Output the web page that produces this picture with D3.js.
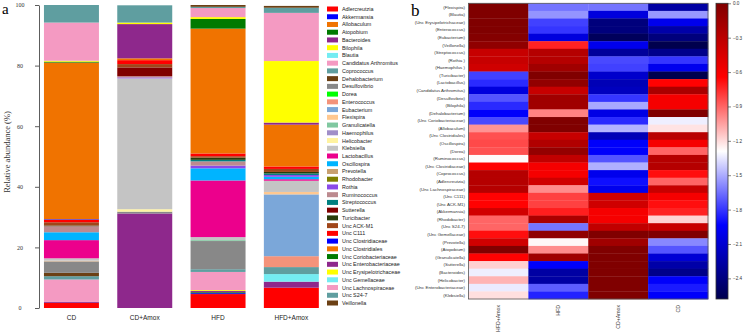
<!DOCTYPE html>
<html>
<head>
<meta charset="utf-8">
<script src="https://cdn.jsdelivr.net/npm/d3@7"></script>
<style>
  body { margin: 0; background: #fff; }
  svg { display: block; }
</style>
</head>
<body>
<script>
// ---- panel a data ----
var groups = ['CD', 'CD+Amox', 'HFD', 'HFD+Amox']
var genera = ['Adlercreutzia', 'Akkermansia', 'Allobaculum', 'Atopobium', 'Bacteroides', 'Bilophila',
  'Blautia', 'Candidatus Arthromitus', 'Coprococcus', 'Dehalobacterium', 'Desulfovibrio', 'Dorea',
  'Enterococcus', 'Eubacterium', 'Flexispira', 'Granulicatella', 'Haemophilus', 'Helicobacter',
  'Klebsiella', 'Lactobacillus', 'Oscillospira', 'Prevotella', 'Rhodobacter', 'Rothia',
  'Ruminococcus', 'Streptococcus', 'Sutterella', 'Turicibacter', 'Unc  ACK-M1', 'Unc C111',
  'Unc Clostridiaceae', 'Unc Clostridiales', 'Unc Coriobacteriaceae', 'Unc Enterobacteriaceae',
  'Unc Erysipelotrichaceae', 'Unc Gemellaceae', 'Unc Lachnospiraceae', 'Unc S24-7', 'Veillonella']
var palette = ['#ff0000', '#0000ff', '#f07300', '#007a00', '#8e288c', '#ffff00', '#74ecf2',
  '#f49ac2', '#5f9ea0', '#6b4014', '#888888', '#00ff00', '#f4937a', '#7ba7d9', '#ffc890',
  '#80c8a0', '#a08ec8', '#fff3a0', '#c4c4c4', '#ec008c', '#00b4ff', '#c8a070', '#808000',
  '#8a4be8', '#bc8a8f', '#008080', '#800000', '#283c0a', '#a0461a']
// relative abundance (%) per genus, same order as genera
var cdAbund = [1.7, 0, 0, 0, 0.3, 0, 0, 7.4, 1.1, 1.1, 3.8, 0, 0, 0, 0.2, 0, 0, 0, 0.8, 6.0, 2.6, 0, 0, 0,
  2.0, 0, 0, 0.2, 1.1, 0.8, 0.2, 51.7, 0.3, 0, 0.3, 0, 12.6, 5.8, 0]
var cdAmoxAbund = [0, 0, 0, 0, 31.2, 0, 0, 0, 0, 0, 0.6, 0, 0, 0, 0, 0, 0, 0.8, 43.2, 0, 0, 0, 0, 0.3,
  0.4, 0, 2.9, 0, 1.1, 1.3, 0, 0.6, 0, 11.3, 0.5, 0, 0, 5.7, 0]
var hfdAbund = [4.6, 0.3, 0, 0.3, 0.4, 0.3, 0, 6.0, 0.9, 0, 9.3, 0, 0, 0, 0, 0.3, 0, 0, 1.0, 18.7, 4.0, 0, 0,
  0.9, 1.4, 0.5, 0, 0.7, 0.5, 0.9, 0, 41.2, 3.2, 0, 0.6, 0, 3.0, 0.4, 0.6]
var hfdAmoxAbund = [6.7, 0, 0, 0, 2.0, 0, 2.5, 0, 2.3, 0, 0, 0, 3.6, 20.4, 0.8, 0, 0, 0, 3.7, 0.5, 0.8, 0,
  0, 0.6, 0, 0.5, 0, 0.5, 1.0, 0.8, 0, 13.8, 0, 0.7, 20.3, 0, 15.9, 1.7, 0.6]
var yTicks = [0, 20, 40, 60, 80, 100]

// ---- panel b data ----
var heatGroups = ['HFD+Amox', 'HFD', 'CD+Amox', 'CD']
var heatRows = ['Flexispira', 'Blautia', 'Unc Erysipelotrichaceae', 'Enterococcus', 'Eubacterium',
  'Veillonella', 'Streptococcus', 'Rothia ', 'Haemophilus ', 'Turicibacter', 'Lactobacillus',
  'Candidatus Arthromitus', 'Desulfovibrio', 'Bilophila', 'Dehalobacterium', 'Unc Coriobacteriaceae',
  'Allobaculum', 'Unc Clostridiales', 'Oscillospira', 'Dorea', 'Ruminococcus', 'Unc Clostridiaceae',
  'Coprococcus', 'Adlercreutzia', 'Unc Lachnospiraceae', 'Unc C111', 'Unc  ACK-M1', 'Akkermansia',
  'Rhodobacter', 'Unc S24-7', 'Unc Gemellaceae', 'Prevotella', 'Atopobium', 'Granulicatella',
  'Sutterella', 'Bacteroides', 'Helicobacter', 'Unc Enterobacteriaceae', 'Klebsiella']
var hfdAmoxZ = [0, 0, 0, 0, -0.02, -0.08, -0.36, -0.36, -0.4, -1.77, -1.83, -2.06, -1.72, -1.83, -1.95,
  -1.75, -1.02, -0.85, -0.83, -0.85, -1.28, -0.65, -0.27, -0.27, -0.27, -0.65, -0.65, -0.41, -0.9, -0.9,
  -0.68, -0.4, 0, -0.65, -1.17, -1.33, -1.1, -1.34, -1.21]
var hfdZ = [-1.64, -1.56, -1.77, -1.8, -2.06, -0.73, -0.27, -0.27, -0.16, 0, -0.09, -0.36, -0.16, -0.16,
  -0.975, 0, 0, -0.36, -0.25, -0.1, -0.33, -0.6, -0.6, -0.4, -1.0, -0.81, -0.81, -0.72, -0.22, -1.64,
  -0.08, -1.27, -1.0, -0.16, -1.95, -2.27, -2.27, -1.7, -1.85]
var cdAmoxZ = [-1.64, -2.06, -2.41, -2.41, -2.53, -2.0, -2.3, -1.75, -1.77, -2.12, -2.2, -2.17, -1.8, -1.51,
  -2.03, -1.83, -1.48, -2.2, -1.95, -1.95, -1.72, -1.49, -2.0, -1.9, -2.0, -0.4, -0.4, -0.6, -0.6, -0.33,
  0, -0.16, 0, 0, 0, 0, 0, 0, 0]
var cdZ = [-2.27, -1.55, -2.0, -2.25, -2.41, -2.58, -2.36, -1.8, -2.0, -2.58, -0.65, -0.22, -0.6, -0.6, 0,
  -1.33, -1.22, -0.29, -0.6, -0.9, -0.27, -0.27, -0.68, -0.9, -0.36, -0.6, -0.68, -0.73, -1.18, -0.36,
  0, -1.59, -1.72, -2.09, -2.25, -2.36, -1.95, -1.87, -1.95]
var cbTicks = [0, -0.3, -0.6, -0.9, -1.2, -1.5, -1.8, -2.1, -2.4]

const svg = d3.select('body').append('svg')
  .attr('width', 744)
  .attr('height', 334)

var serif = '"Liberation Serif", "DejaVu Serif", serif'
var sans = '"Liberation Sans", Arial, sans-serif'

// ================= panel a =================
var a = svg.append('g')

var abund = [cdAbund, cdAmoxAbund, hfdAbund, hfdAmoxAbund]
var table = groups.map(function (g, i) {
  var row = { group: g }
  genera.forEach(function (s, j) { row[s] = abund[i][j] })
  return row
})
var color = d3.scaleOrdinal().domain(genera).range(palette)
var stacked = d3.stack().keys(genera)(table)

var x = d3.scaleBand().domain(groups).range([34.8, 328]).paddingInner(0.25).paddingOuter(0.125)
var y = d3.scaleLinear().domain([0, 100]).range([308, 5])

a.selectAll('g.layer')
  .data(stacked)
  .join('g')
  .attr('class', 'layer')
  .attr('fill', function (d) { return color(d.key) })
  .selectAll('rect')
  .data(function (d) { return d })
  .join('rect')
  .attr('x', function (d) { return x(d.data.group) })
  .attr('width', x.bandwidth())
  .attr('y', function (d) { return y(d[1]) })
  .attr('height', function (d) { return Math.max(0, y(d[0]) - y(d[1])) })

// y axis, R style
var yAxis = a.append('g')
  .attr('transform', 'translate(39,0)')
  .call(d3.axisLeft(y).tickValues(yTicks).tickSize(4).tickPadding(9).tickSizeOuter(0))
yAxis.select('.domain').attr('stroke', '#333').attr('stroke-width', 0.8)
yAxis.selectAll('.tick line').attr('stroke', '#333').attr('stroke-width', 0.8)
yAxis.selectAll('.tick text')
  .attr('font-family', serif)
  .attr('font-size', 6)
  .attr('fill', '#333')
  .attr('text-anchor', 'middle')
  .attr('x', -19)

a.append('text')
  .attr('transform', 'translate(10,152) rotate(-90)')
  .attr('text-anchor', 'middle')
  .attr('font-family', serif)
  .attr('font-size', 8.5)
  .attr('fill', '#333')
  .text('Relative abundance (%)')

a.selectAll('text.cat')
  .data(groups)
  .join('text')
  .attr('class', 'cat')
  .attr('x', function (d) { return x(d) + x.bandwidth() / 2 })
  .attr('y', 320)
  .attr('text-anchor', 'middle')
  .attr('font-family', sans)
  .attr('font-size', 6.5)
  .attr('fill', '#222')
  .text(function (d) { return d })

a.append('text')
  .attr('x', 2)
  .attr('y', 14)
  .attr('font-family', serif)
  .attr('font-size', 15)
  .text('a')

// legend
var legY = d3.scalePoint().domain(genera).range([9, 303])
var leg = a.selectAll('g.leg')
  .data(genera)
  .join('g')
  .attr('class', 'leg')
  .attr('transform', function (d) { return 'translate(327,' + legY(d) + ')' })
leg.append('rect')
  .attr('x', 0)
  .attr('y', -2.5)
  .attr('width', 11)
  .attr('height', 5)
  .attr('fill', function (d) { return color(d) })
leg.append('text')
  .attr('x', 15)
  .attr('y', 2)
  .attr('font-family', sans)
  .attr('font-size', 5.4)
  .attr('fill', '#222')
  .text(function (d) { return d })

// ================= panel b =================
var b = svg.append('g')
var zCols = [hfdAmoxZ, hfdZ, cdAmoxZ, cdZ]
var cells = []
heatGroups.forEach(function (g, i) {
  heatRows.forEach(function (r, j) {
    cells.push({ group: g, row: r, value: zCols[i][j] })
  })
})

var zMin = -2.58
var seismic = d3.scaleLinear()
  .domain([zMin, zMin * 0.75, zMin * 0.5, zMin * 0.25, 0])
  .range(['#00004d', '#0000ff', '#ffffff', '#ff0000', '#800000'])

var hx = d3.scaleBand().domain(heatGroups).range([468.5, 708])
var hy = d3.scaleBand().domain(heatRows).range([3.3, 299])

b.selectAll('rect.cell')
  .data(cells)
  .join('rect')
  .attr('class', 'cell')
  .attr('x', function (d) { return hx(d.group) })
  .attr('y', function (d) { return hy(d.row) })
  .attr('width', hx.bandwidth() + 0.3)
  .attr('height', hy.bandwidth() + 0.3)
  .attr('fill', function (d) { return seismic(d.value) })

b.append('rect')
  .attr('x', 468.5)
  .attr('y', 3.3)
  .attr('width', 708 - 468.5)
  .attr('height', 299 - 3.3)
  .attr('fill', 'none')
  .attr('stroke', '#555')
  .attr('stroke-width', 0.8)

b.selectAll('text.rowlab')
  .data(heatRows)
  .join('text')
  .attr('class', 'rowlab')
  .attr('x', 465)
  .attr('y', function (d) { return hy(d) + hy.bandwidth() / 2 + 1.5 })
  .attr('text-anchor', 'end')
  .attr('font-family', sans)
  .attr('font-size', 4.4)
  .attr('fill', '#333')
  .text(function (d) { return '(' + d + ')' })

b.selectAll('text.collab')
  .data(heatGroups)
  .join('text')
  .attr('class', 'collab')
  .attr('transform', function (d) {
    return 'translate(' + (hx(d) + hx.bandwidth() / 2 + 1.8) + ',305) rotate(-90)'
  })
  .attr('text-anchor', 'end')
  .attr('font-family', sans)
  .attr('font-size', 5.2)
  .attr('fill', '#333')
  .text(function (d) { return d })

b.append('text')
  .attr('x', 411)
  .attr('y', 16)
  .attr('font-family', serif)
  .attr('font-size', 17)
  .text('b')

// colour bar
var defs = svg.append('defs')
var grad = defs.append('linearGradient')
  .attr('id', 'cbar')
  .attr('x1', 0).attr('y1', 1).attr('x2', 0).attr('y2', 0)
seismic.domain().forEach(function (v, i) {
  grad.append('stop')
    .attr('offset', (v - zMin) / (0 - zMin))
    .attr('stop-color', seismic.range()[i])
})
var cy = d3.scaleLinear().domain([zMin, 0]).range([299, 3.3])
b.append('rect')
  .attr('x', 716)
  .attr('y', 3.3)
  .attr('width', 12)
  .attr('height', 299 - 3.3)
  .attr('fill', 'url(#cbar)')
  .attr('stroke', '#333')
  .attr('stroke-width', 0.8)
var cAxis = b.append('g')
  .attr('transform', 'translate(728,0)')
  .call(d3.axisRight(cy).tickValues(cbTicks).tickSize(3).tickPadding(2).tickSizeOuter(0)
    .tickFormat(d3.format('.1f')))
cAxis.select('.domain').remove()
cAxis.selectAll('.tick line').attr('stroke', '#333').attr('stroke-width', 0.6)
cAxis.selectAll('.tick text')
  .attr('font-family', sans)
  .attr('font-size', 4.6)
  .attr('fill', '#333')
</script>
</body>
</html>
